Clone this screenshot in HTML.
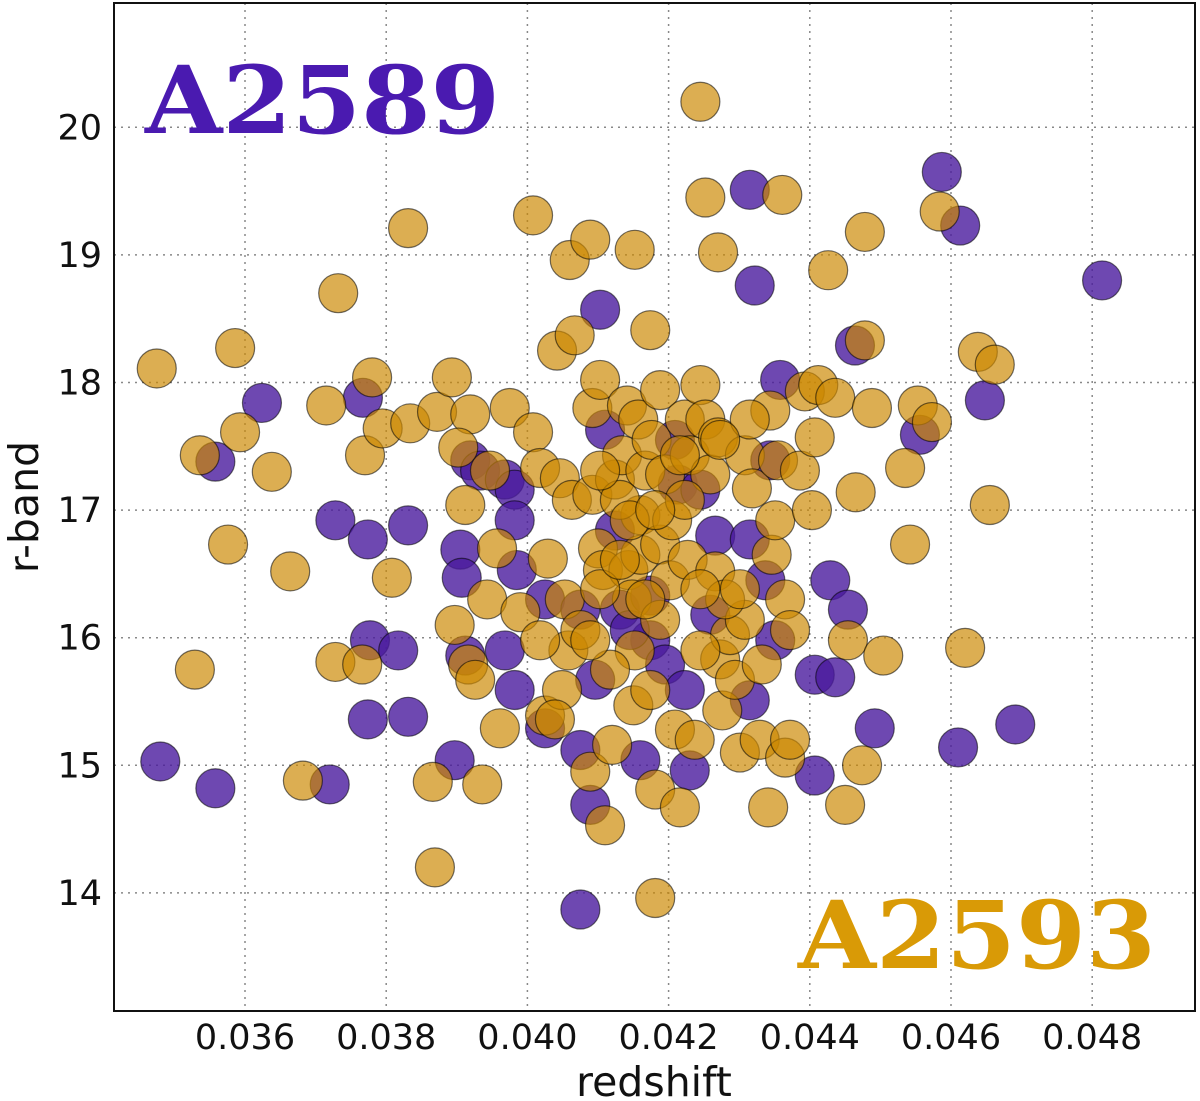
<!DOCTYPE html>
<html><head><meta charset="utf-8"><style>
html,body{margin:0;padding:0;background:#fff;}
svg{display:block;font-family:"DejaVu Sans","Liberation Sans",sans-serif;}
</style></head><body>
<svg id="chart" width="1200" height="1101" viewBox="0 0 1200 1101" xmlns="http://www.w3.org/2000/svg">
<g id="grid"></g>
<g id="purple"></g>
<g id="orange"></g>
<rect x="114" y="3" width="1081" height="1008" fill="none" stroke="#111" stroke-width="2"/>
<g id="ticks" font-size="35" fill="#111"></g>
<text x="654" y="1096" font-size="41" text-anchor="middle" fill="#111">redshift</text>
<text transform="translate(38,507) rotate(-90)" font-size="41" text-anchor="middle" fill="#111">r-band</text>
<text x="145" y="133" font-family="'DejaVu Serif','Liberation Serif',serif" font-weight="bold" font-size="94" fill="#4a1ab0" textLength="355" lengthAdjust="spacingAndGlyphs">A2589</text>
<text x="798" y="968" font-family="'DejaVu Serif','Liberation Serif',serif" font-weight="bold" font-size="94" fill="#d99a06" textLength="358" lengthAdjust="spacingAndGlyphs">A2593</text>
</svg>
<script>
const xTicks=[0.036,0.038,0.040,0.042,0.044,0.046,0.048];
const xTickLabels=["0.036","0.038","0.040","0.042","0.044","0.046","0.048"];
const yTicks=[14,15,16,17,18,19,20];
const yTickLabels=["14","15","16","17","18","19","20"];
const purpleZ=[0.03480,0.03558,0.03624,0.03558,0.03728,0.03720,0.03774,0.03777,0.03774,0.03767,0.03817,0.03831,0.03831,0.03897,0.03905,0.03907,0.03912,0.03919,0.03933,0.03968,0.03982,0.03982,0.03985,0.03968,0.03982,0.04025,0.04025,0.04075,0.04103,0.04075,0.04089,0.04075,0.04096,0.04110,0.04124,0.04131,0.04160,0.04174,0.04174,0.04195,0.04209,0.04213,0.04223,0.04230,0.04259,0.04266,0.04315,0.04322,0.04315,0.04337,0.04351,0.04315,0.04358,0.04407,0.04407,0.04429,0.04436,0.04454,0.04464,0.04492,0.04556,0.04587,0.04613,0.04610,0.04648,0.04691,0.04814,0.04145,0.04245,0.04344];
const purpleR=[15.03,14.82,17.84,17.38,16.92,14.85,16.77,15.98,15.36,17.88,15.90,16.88,15.38,15.04,16.69,16.47,15.86,17.39,17.31,17.24,17.16,16.92,16.53,15.90,15.59,15.29,16.30,16.22,18.57,15.12,14.69,13.87,15.67,17.63,16.84,16.22,15.04,16.33,15.98,15.79,17.55,17.20,15.59,14.96,16.18,16.80,19.51,18.76,16.77,16.45,15.98,15.51,18.02,14.92,15.71,16.45,15.69,16.22,18.29,15.29,17.59,19.65,19.23,15.14,17.86,15.32,18.80,16.06,17.16,17.39];
const orangeZ=[0.03475,0.03536,0.03529,0.03576,0.03593,0.03586,0.03638,0.03664,0.03682,0.03732,0.03715,0.03728,0.03770,0.03766,0.03780,0.03795,0.03808,0.03831,0.03834,0.03866,0.03869,0.03872,0.03893,0.03897,0.03919,0.03912,0.03916,0.03936,0.03926,0.03902,0.03943,0.03957,0.03961,0.03975,0.03990,0.04008,0.04008,0.04018,0.04025,0.04029,0.04042,0.04046,0.04053,0.04060,0.04067,0.04063,0.04058,0.04049,0.04089,0.04092,0.04103,0.04092,0.04100,0.04107,0.04089,0.04110,0.04120,0.04124,0.04134,0.04141,0.04143,0.04148,0.04152,0.04150,0.04152,0.04157,0.04160,0.04160,0.04167,0.04174,0.04176,0.04181,0.04181,0.04188,0.04188,0.04195,0.04202,0.04205,0.04216,0.04209,0.04223,0.04227,0.04230,0.04237,0.04245,0.04245,0.04252,0.04252,0.04259,0.04266,0.04270,0.04270,0.04273,0.04276,0.04287,0.04294,0.04301,0.04308,0.04308,0.04318,0.04329,0.04332,0.04341,0.04344,0.04346,0.04351,0.04355,0.04361,0.04365,0.04365,0.04372,0.04372,0.04386,0.04393,0.04403,0.04407,0.04412,0.04426,0.04436,0.04450,0.04454,0.04465,0.04474,0.04478,0.04478,0.04488,0.04504,0.04535,0.04542,0.04553,0.04573,0.04584,0.04620,0.04638,0.04662,0.04655,0.04039,0.04075,0.04117,0.04174,0.04245,0.04131,0.04223,0.04315,0.04188,0.04103,0.04280,0.04018,0.03947,0.04131,0.04167,0.04103,0.04216,0.04273,0.04145,0.04181,0.04245,0.04301,0.04089];
const orangeR=[18.11,17.43,15.75,16.73,17.61,18.27,17.30,16.52,14.88,18.70,17.82,15.81,17.43,15.79,18.04,17.64,16.47,19.21,17.68,14.87,14.20,17.77,18.04,16.10,17.75,17.04,15.79,14.85,15.67,17.49,16.30,16.70,15.29,17.80,16.20,19.31,17.61,17.33,15.39,16.62,18.25,17.25,16.30,18.96,18.37,17.08,15.90,15.59,19.12,17.80,18.02,17.12,16.70,16.53,14.95,14.53,15.16,17.24,17.43,17.82,16.53,16.30,15.90,15.47,19.04,17.71,16.96,16.65,17.31,18.41,17.55,14.81,13.96,16.73,17.94,17.28,16.45,16.92,14.67,15.28,17.71,16.61,17.43,15.20,20.20,17.98,19.45,17.71,17.28,16.52,19.02,17.57,15.83,15.43,16.02,15.67,15.10,17.43,16.14,17.17,15.20,15.79,14.67,17.78,16.65,16.92,17.39,19.47,16.30,15.06,15.20,16.06,17.31,17.93,17.00,17.57,17.98,18.88,17.88,14.69,15.98,17.14,15.00,19.18,18.33,17.80,15.86,17.33,16.73,17.82,17.69,19.34,15.92,18.24,18.14,17.04,15.36,16.06,15.75,15.59,15.90,17.08,17.08,17.71,16.14,16.38,16.30,15.98,17.31,16.61,16.30,17.31,17.43,17.55,16.92,17.00,16.38,16.38,15.98];

const NS="http://www.w3.org/2000/svg";
const X0=114,X1=1195,Y0=3,Y1=1011;
function X(v){return 245+(v-0.036)*70600;}
function Y(v){return 127.3+(20-v)*127.6;}
function mk(tag,attrs,parent){const e=document.createElementNS(NS,tag);for(const k in attrs)e.setAttribute(k,attrs[k]);parent.appendChild(e);return e;}
const grid=document.getElementById('grid'),ticks=document.getElementById('ticks');
xTicks.forEach((t,i)=>{
  const l=mk('line',{x1:X(t),x2:X(t),y1:Y0,y2:Y1,stroke:'#888','stroke-width':1.5,'stroke-dasharray':'2,5'},grid);
  
  
  const tx=mk('text',{x:X(t),y:1049,'text-anchor':'middle'},ticks);
  tx.textContent=xTickLabels[i];
  
  
});
yTicks.forEach((t,i)=>{
  const l=mk('line',{x1:X0,x2:X1,y1:Y(t),y2:Y(t),stroke:'#888','stroke-width':1.5,'stroke-dasharray':'2,5'},grid);
  
  
  const tx=mk('text',{x:102,y:Y(t)+12,'text-anchor':'end'},ticks);
  tx.textContent=yTickLabels[i];
  
  
});
const pg=document.getElementById('purple'),og=document.getElementById('orange');
purpleZ.forEach((z,i)=>{
  const c=mk('circle',{cx:X(z),cy:Y(purpleR[i]),r:19.5,fill:'#4a1a9e','fill-opacity':0.8,stroke:'#000','stroke-opacity':0.55,'stroke-width':1.2},pg);
  
  
});
orangeZ.forEach((z,i)=>{
  const c=mk('circle',{cx:X(z),cy:Y(orangeR[i]),r:19.5,fill:'#cc8800','fill-opacity':0.68,stroke:'#000','stroke-opacity':0.55,'stroke-width':1.2},og);
  
  
});
</script>
</body></html>
